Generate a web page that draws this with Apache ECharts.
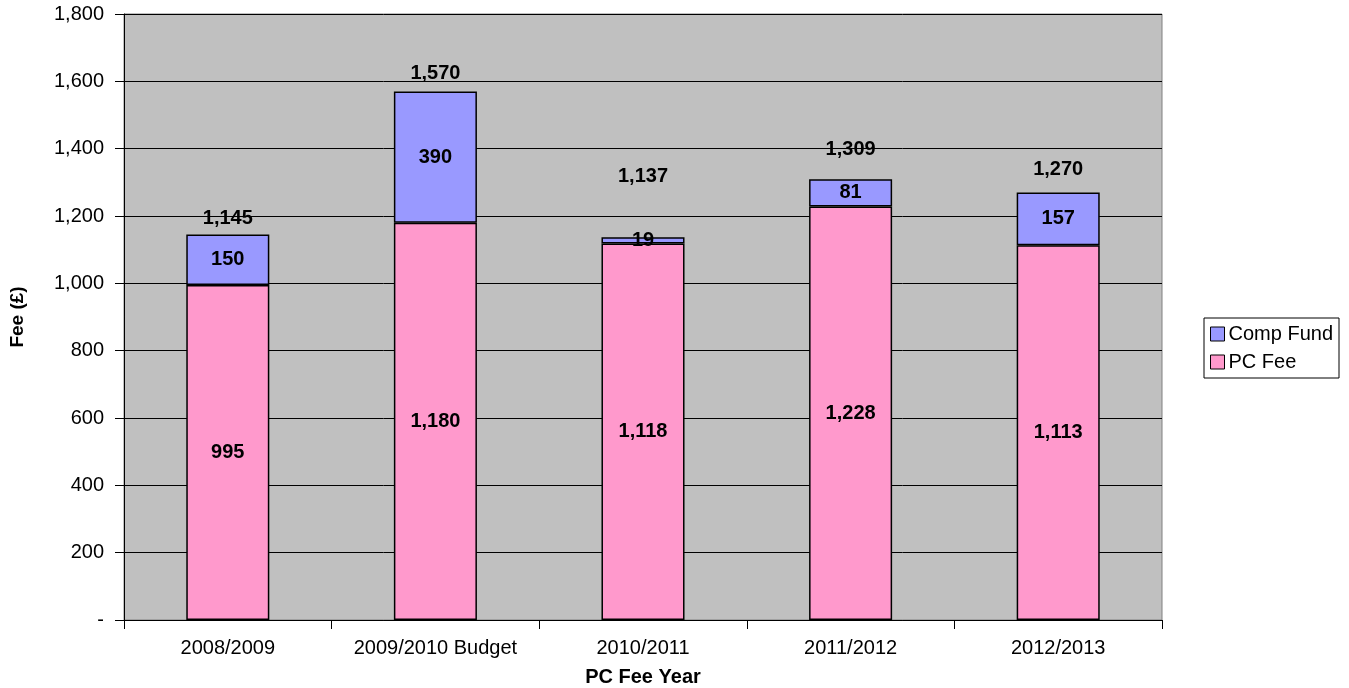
<!DOCTYPE html>
<html><head><meta charset="utf-8">
<script src="https://cdn.jsdelivr.net/npm/echarts@6/dist/echarts.min.js"></script>
<style>html,body{margin:0;padding:0;background:#fff}#c{width:1349px;height:688px}</style>
</head><body><div id="c"></div>
<script>
const categories = ['2008/2009', '2009/2010 Budget', '2010/2011', '2011/2012', '2012/2013'];
const pcFee = [995, 1180, 1118, 1228, 1113];
const compFund = [150, 390, 19, 81, 157];
const totals = [1145, 1570, 1137, 1309, 1270];
// vertical placement of the total labels (in axis units)
const totalLabelY = [1194, 1622, 1316, 1399, 1337];

const fmt = v => v === 0 ? '-' : v.toLocaleString('en-US');
const font = 'Liberation Sans, Arial, sans-serif';
const chart = echarts.init(document.getElementById('c'));
chart.setOption({
  animation: false,
  textStyle: { fontFamily: font },
  grid: { left: 124, top: 14, right: 187, bottom: 68, outerBoundsMode: 'none', containLabel: false, show: true, backgroundColor: '#C0C0C0', borderColor: '#808080', borderWidth: 1 },
  legend: {
    orient: 'vertical', right: 10, top: 318,
    data: ['Comp Fund', 'PC Fee'],
    itemWidth: 14, itemHeight: 14, itemGap: 8,
    icon: 'rect',
    borderColor: '#000', borderWidth: 1, padding: [6, 6, 6, 6],
    textStyle: { fontSize: 20, color: '#000', fontFamily: font, padding: [0, 0, 0, -1] },
    itemStyle: { borderColor: '#000', borderWidth: 1 }
  },
  xAxis: {
    type: 'category', data: categories,
    name: 'PC Fee Year', nameLocation: 'middle', nameGap: 47,
    nameTextStyle: { fontWeight: 'bold', fontSize: 20, color: '#000', fontFamily: font },
    axisLine: { lineStyle: { color: '#000', width: 1 } },
    axisTick: { show: true, interval: 0, alignWithLabel: false, length: 9, lineStyle: { color: '#000' } },
    axisLabel: { interval: 0, hideOverlap: false, fontSize: 20, color: '#000', margin: 18, fontFamily: font }
  },
  yAxis: {
    type: 'value', min: 0, max: 1800, interval: 200,
    name: 'Fee (£)', nameLocation: 'middle', nameGap: 97, nameRotate: 90,
    nameTextStyle: { fontWeight: 'bold', fontSize: 19, color: '#000', fontFamily: font },
    axisLine: { show: true, lineStyle: { color: '#000' } },
    axisTick: { show: true, length: 9, lineStyle: { color: '#000' } },
    splitLine: { lineStyle: { color: '#000', width: 1 } },
    axisLabel: { fontSize: 20, color: '#000', margin: 20, formatter: fmt, fontFamily: font }
  },
  series: [
    {
      name: 'PC Fee', type: 'bar', stack: 'fee', data: pcFee, barWidth: '40%',
      itemStyle: { color: '#FF99CC', borderColor: '#000', borderWidth: 1.5 },
      label: { show: true, position: 'inside', formatter: p => fmt(p.value), fontWeight: 'bold', fontSize: 20, color: '#000', fontFamily: font }
    },
    {
      name: 'Comp Fund', type: 'bar', stack: 'fee', data: compFund, barWidth: '40%',
      itemStyle: { color: '#9999FF', borderColor: '#000', borderWidth: 1.5 },
      label: { show: true, position: 'inside', formatter: p => fmt(p.value), fontWeight: 'bold', fontSize: 20, color: '#000', fontFamily: font }
    },
    {
      name: 'Total', type: 'scatter', symbolSize: 0, silent: true,
      itemStyle: { opacity: 1 },
      data: totalLabelY.map((y, i) => ({ value: [i, y], total: totals[i] })),
      label: { show: true, position: 'inside', formatter: p => fmt(p.data.total), fontWeight: 'bold', fontSize: 20, color: '#000', opacity: 1, fontFamily: font },
      z: 5
    }
  ]
});
</script></body></html>
